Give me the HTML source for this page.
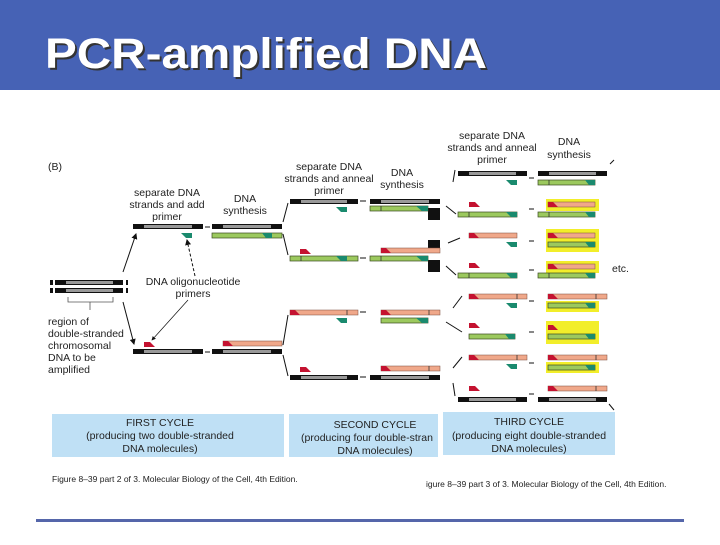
<!DOCTYPE html>
<html><head><meta charset="utf-8"><style>
html,body{margin:0;padding:0;background:#fff;}
body{width:720px;height:540px;overflow:hidden;position:relative;font-family:"Liberation Sans",sans-serif;}
svg text{font-family:"Liberation Sans",sans-serif;}
</style></head><body>
<svg width="720" height="540" viewBox="0 0 720 540" xmlns="http://www.w3.org/2000/svg">
<defs>
<marker id="ah" markerWidth="6" markerHeight="6" refX="5" refY="3" orient="auto"><path d="M0,0 L6,3 L0,6 z" fill="#111"/></marker>
</defs>
<rect x="0" y="0" width="720" height="90" fill="#4662b5"/>
<text x="47" y="70" font-size="43" font-weight="bold" fill="#333" textLength="442" lengthAdjust="spacingAndGlyphs">PCR-amplified DNA</text>
<text x="45" y="68" font-size="43" font-weight="bold" fill="#fff" textLength="442" lengthAdjust="spacingAndGlyphs">PCR-amplified DNA</text>
<rect x="36" y="519" width="648" height="3" fill="#5566aa"/>

<g font-size="10.5" fill="#222" text-anchor="middle">
<text x="48" y="170" text-anchor="start">(B)</text>
<text x="167" y="196">separate DNA</text><text x="167" y="208">strands and add</text><text x="167" y="220">primer</text>
<text x="245" y="202">DNA</text><text x="245" y="214">synthesis</text>
<text x="193" y="285">DNA oligonucleotide</text><text x="193" y="297">primers</text>
<text x="329" y="170">separate DNA</text><text x="329" y="182">strands and anneal</text><text x="329" y="194">primer</text>
<text x="402" y="176">DNA</text><text x="402" y="188">synthesis</text>
<text x="492" y="139">separate DNA</text><text x="492" y="151">strands and anneal</text><text x="492" y="163">primer</text>
<text x="569" y="145">DNA</text><text x="569" y="158">synthesis</text>
<g text-anchor="start"><text x="48" y="325">region of</text><text x="48" y="337">double-stranded</text><text x="48" y="349">chromosomal</text><text x="48" y="361">DNA to be</text><text x="48" y="373">amplified</text>
<text x="612" y="272">etc.</text></g>
</g>

<!-- original duplex -->
<g>
<rect x="50" y="280" width="3" height="5" fill="#111"/><rect x="55" y="280" width="68" height="5" fill="#111"/><rect x="66" y="281" width="47" height="3" fill="#999"/><rect x="126" y="280" width="2" height="5" fill="#111"/>
<rect x="50" y="288" width="3" height="5" fill="#111"/><rect x="55" y="288" width="68" height="5" fill="#111"/><rect x="66" y="289" width="47" height="3" fill="#999"/><rect x="126" y="288" width="2" height="5" fill="#111"/>
<path d="M68,297 V302 H113 V297 M90,302 V310" fill="none" stroke="#555" stroke-width="0.8"/>
</g>

<g stroke="#111" stroke-width="1" fill="none">
<line x1="123" y1="272" x2="136" y2="234" marker-end="url(#ah)"/>
<line x1="123" y1="302" x2="134" y2="344" marker-end="url(#ah)"/>
<line x1="195" y1="276" x2="187" y2="240" stroke-dasharray="3,2" marker-end="url(#ah)"/>
<line x1="188" y1="300" x2="152" y2="340" stroke-width="0.7" marker-end="url(#ah)"/>
<line x1="205" y1="227" x2="210" y2="227"/><line x1="205" y1="352" x2="210" y2="352"/>
<line x1="283" y1="222" x2="288" y2="203"/><line x1="283" y1="234" x2="288" y2="255"/>
<line x1="283" y1="345" x2="288" y2="315"/><line x1="283" y1="355" x2="288" y2="376"/>
<line x1="360" y1="201" x2="366" y2="201"/><line x1="360" y1="258" x2="366" y2="258"/><line x1="360" y1="312" x2="366" y2="312"/><line x1="360" y1="377" x2="366" y2="377"/>
<line x1="453" y1="182" x2="455" y2="170"/><line x1="446" y1="206" x2="456" y2="214"/><line x1="448" y1="243" x2="460" y2="238"/><line x1="446" y1="266" x2="456" y2="275"/>
<line x1="453" y1="308" x2="462" y2="296"/><line x1="446" y1="322" x2="462" y2="332"/><line x1="453" y1="368" x2="462" y2="357"/><line x1="453" y1="383" x2="455" y2="396"/>
<line x1="529" y1="178" x2="534" y2="178"/><line x1="529" y1="209" x2="534" y2="209"/><line x1="529" y1="241" x2="534" y2="241"/><line x1="529" y1="270" x2="534" y2="270"/><line x1="529" y1="301" x2="534" y2="301"/><line x1="529" y1="332" x2="534" y2="332"/><line x1="529" y1="363" x2="534" y2="363"/><line x1="529" y1="394" x2="534" y2="394"/>
<line x1="610" y1="164" x2="614" y2="160"/><line x1="609" y1="404" x2="614" y2="410"/>
</g>

<!-- strands: black/gray template -->
<g fill="#111">
<rect x="133" y="224" width="70" height="5"/><rect x="212" y="224" width="70" height="5"/>
<rect x="133" y="349" width="70" height="5"/><rect x="212" y="349" width="70" height="5"/>
<rect x="290" y="199" width="68" height="5"/><rect x="370" y="199" width="70" height="5"/>
<rect x="290" y="375" width="68" height="5"/><rect x="370" y="375" width="70" height="5"/>
<rect x="458" y="171" width="69" height="5"/><rect x="538" y="171" width="69" height="5"/>
<rect x="458" y="397" width="69" height="5"/><rect x="538" y="397" width="69" height="5"/>
<rect x="428" y="208" width="12" height="12"/><rect x="428" y="240" width="12" height="12"/><rect x="428" y="260" width="12" height="12"/>
</g>
<g fill="#999">
<rect x="144" y="225" width="48" height="3"/><rect x="223" y="225" width="48" height="3"/>
<rect x="144" y="350" width="48" height="3"/><rect x="223" y="350" width="48" height="3"/>
<rect x="301" y="200" width="46" height="3"/><rect x="381" y="200" width="48" height="3"/>
<rect x="301" y="376" width="46" height="3"/><rect x="381" y="376" width="48" height="3"/>
<rect x="469" y="172" width="47" height="3"/><rect x="549" y="172" width="47" height="3"/>
<rect x="469" y="398" width="47" height="3"/><rect x="549" y="398" width="47" height="3"/>
</g>

<!-- yellow highlights -->
<g fill="#f2ee2a">
<rect x="546" y="199" width="53" height="12"/><rect x="546" y="229" width="53" height="23"/><rect x="546" y="261" width="53" height="12"/>
<rect x="546" y="301" width="53" height="11"/><rect x="546" y="321" width="53" height="23"/><rect x="546" y="362" width="53" height="11"/>
</g>

<!-- green strands -->
<g fill="#9cc95e" stroke="#3a4a20" stroke-width="0.7">
<rect x="212" y="233" width="70" height="5"/>
<rect x="370" y="206" width="58" height="5"/><rect x="290" y="256" width="68" height="5"/><rect x="370" y="256" width="58" height="5"/><rect x="381" y="318" width="47" height="5"/>
<rect x="458" y="180" width="0.1" height="0"/>
<rect x="538" y="180" width="57" height="5"/><rect x="458" y="212" width="59" height="5"/><rect x="538" y="212" width="57" height="5"/>
<rect x="548" y="242" width="47" height="5"/><rect x="458" y="273" width="59" height="5"/><rect x="538" y="273" width="57" height="5"/>
<rect x="548" y="303" width="47" height="5"/><rect x="469" y="334" width="46" height="5"/><rect x="548" y="334" width="47" height="5"/><rect x="548" y="365" width="47" height="5"/>
</g>
<!-- salmon strands -->
<g fill="#f0a88a" stroke="#7a4a3a" stroke-width="0.5">
<rect x="223" y="341" width="59" height="5"/>
<rect x="381" y="248" width="59" height="5"/><rect x="290" y="310" width="68" height="5"/><rect x="381" y="310" width="59" height="5"/><rect x="381" y="366" width="59" height="5"/>
<rect x="548" y="202" width="47" height="5"/><rect x="469" y="233" width="48" height="5"/><rect x="548" y="233" width="47" height="5"/><rect x="548" y="264" width="47" height="5"/>
<rect x="469" y="294" width="58" height="5"/><rect x="548" y="294" width="59" height="5"/><rect x="469" y="355" width="58" height="5"/><rect x="548" y="355" width="59" height="5"/><rect x="548" y="386" width="59" height="5"/>
</g>
<!-- dividers -->
<g stroke="#333" stroke-width="0.8">
<line x1="301" y1="256" x2="301" y2="261"/><line x1="381" y1="256" x2="381" y2="261"/><line x1="381" y1="206" x2="381" y2="211"/>
<line x1="347" y1="310" x2="347" y2="315"/><line x1="429" y1="310" x2="429" y2="315"/><line x1="429" y1="366" x2="429" y2="371"/>
<line x1="549" y1="180" x2="549" y2="185"/><line x1="469" y1="212" x2="469" y2="217"/><line x1="549" y1="212" x2="549" y2="217"/>
<line x1="469" y1="273" x2="469" y2="278"/><line x1="549" y1="273" x2="549" y2="278"/>
<line x1="517" y1="294" x2="517" y2="299"/><line x1="596" y1="294" x2="596" y2="299"/><line x1="517" y1="355" x2="517" y2="360"/><line x1="596" y1="355" x2="596" y2="360"/><line x1="596" y1="386" x2="596" y2="391"/>
</g>
<!-- red primers -->
<g fill="#c41230">
<path d="M144,342 h6 l5,5 h-11z"/><path d="M223,341 h5 l5,5 h-10z"/>
<path d="M300,249 h6 l5,5 h-11z"/><path d="M381,248 h5 l5,5 h-10z"/><path d="M290,310 h5 l5,5 h-10z"/><path d="M381,310 h5 l5,5 h-10z"/>
<path d="M300,367 h6 l5,5 h-11z"/><path d="M381,366 h5 l5,5 h-10z"/>
<path d="M469,202 h6 l5,5 h-11z"/><path d="M548,202 h5 l5,5 h-10z"/><path d="M469,233 h5 l5,5 h-10z"/><path d="M548,233 h5 l5,5 h-10z"/>
<path d="M469,263 h6 l5,5 h-11z"/><path d="M548,264 h5 l5,5 h-10z"/><path d="M469,294 h5 l5,5 h-10z"/><path d="M548,294 h5 l5,5 h-10z"/>
<path d="M469,323 h6 l5,5 h-11z"/><path d="M548,325 h5 l5,5 h-10z"/><path d="M469,355 h5 l5,5 h-10z"/><path d="M548,355 h5 l5,5 h-10z"/>
<path d="M469,386 h6 l5,5 h-11z"/><path d="M548,386 h5 l5,5 h-10z"/>
</g>
<!-- teal primers -->
<g fill="#1a8a6e">
<path d="M181,233 h11 v5 h-6z"/><path d="M262,233 h10 v5 h-6z"/>
<path d="M336,207 h11 v5 h-6z"/><path d="M416,206 h12 v5 h-6z"/><path d="M336,256 h11 v5 h-6z"/><path d="M416,256 h12 v5 h-6z"/>
<path d="M336,318 h11 v5 h-6z"/><path d="M416,318 h12 v5 h-6z"/>
<path d="M506,180 h11 v5 h-6z"/><path d="M585,180 h10 v5 h-6z"/><path d="M506,212 h11 v5 h-6z"/><path d="M585,212 h10 v5 h-6z"/>
<path d="M506,242 h11 v5 h-6z"/><path d="M585,242 h10 v5 h-6z"/><path d="M506,273 h11 v5 h-6z"/><path d="M585,273 h10 v5 h-6z"/>
<path d="M506,303 h11 v5 h-6z"/><path d="M585,303 h10 v5 h-6z"/><path d="M505,334 h10 v5 h-6z"/><path d="M585,334 h10 v5 h-6z"/>
<path d="M506,364 h11 v5 h-6z"/><path d="M585,365 h10 v5 h-6z"/>
</g>

<!-- cycle boxes -->
<g fill="#bfe0f5">
<rect x="52" y="414" width="232" height="43"/><rect x="289" y="414" width="149" height="43"/><rect x="443" y="412" width="172" height="43"/>
</g>
<g font-size="10.5" fill="#222" text-anchor="middle">
<text x="160" y="426">FIRST CYCLE</text><text x="160" y="439">(producing two double-stranded</text><text x="160" y="452">DNA molecules)</text>
<text x="375" y="428">SECOND CYCLE</text><text x="367" y="441">(producing four double-stran</text><text x="375" y="454">DNA molecules)</text>
<text x="529" y="425">THIRD CYCLE</text><text x="529" y="439">(producing eight double-stranded</text><text x="529" y="452">DNA molecules)</text>
</g>
<g font-size="8.5" fill="#222">
<text x="52" y="482">Figure 8–39 part 2 of 3. Molecular Biology of the Cell, 4th Edition.</text>
<text x="426" y="487">igure 8–39 part 3 of 3. Molecular Biology of the Cell, 4th Edition.</text>
</g>
</svg>
</body></html>
